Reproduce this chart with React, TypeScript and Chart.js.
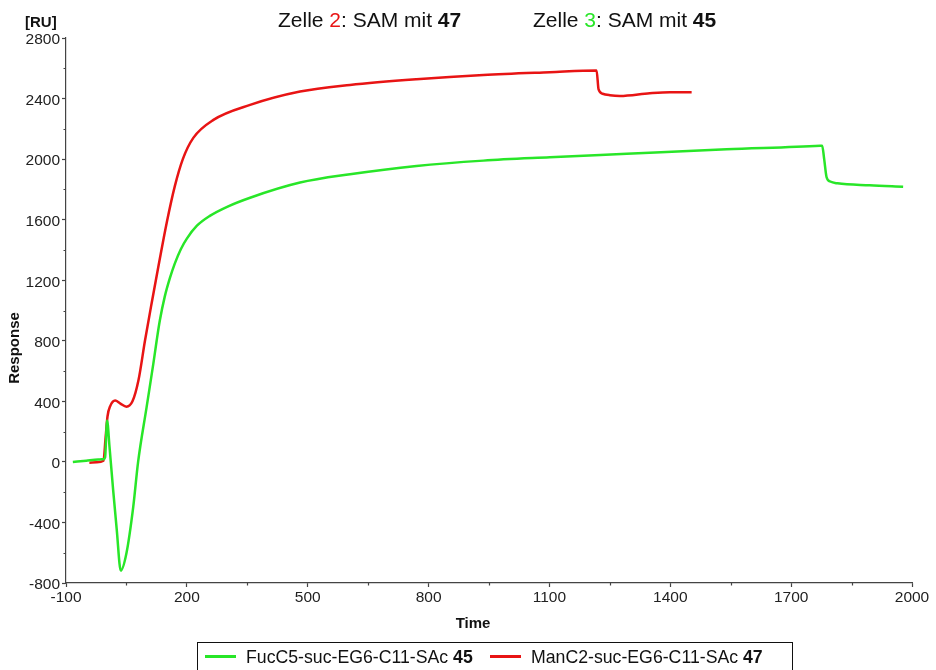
import React, { useEffect, useRef } from "react";
import { Chart, registerables } from "chart.js";

Chart.register(...registerables);

// ---- data ----
const greenTime = [-83, -50, -20, -7, -3, 2, 8, 17, 26, 36, 50, 67, 79, 100, 117, 125, 133, 145, 158, 170, 185, 200, 225, 257, 300, 357, 481, 605, 770, 936, 1101, 1292, 1540, 1772, 1777, 1782, 1788, 1797, 1815, 1895, 1978];
const greenResponse = [0, 8, 15, 18, 30, 273, 100, -185, -449, -718, -603, -295, 0, 360, 652, 800, 935, 1090, 1215, 1310, 1405, 1475, 1560, 1625, 1685, 1745, 1845, 1900, 1955, 1990, 2012, 2035, 2065, 2088, 2089, 2000, 1880, 1852, 1840, 1827, 1818];

const redTime = [-42, -24, -7, -2, 3, 10, 22, 35, 50, 65, 80, 96, 112, 130, 150, 170, 190, 216, 266, 357, 481, 605, 770, 936, 1101, 1217, 1222, 1232, 1250, 1275, 1349, 1399, 1453];
const redResponse = [-5, -3, 7, 150, 300, 370, 405, 385, 365, 400, 541, 800, 1040, 1300, 1580, 1820, 2000, 2140, 2259, 2358, 2446, 2490, 2528, 2556, 2574, 2585, 2460, 2432, 2422, 2417, 2435, 2442, 2442];

const xMajorTicks = [-100, 200, 500, 800, 1100, 1400, 1700, 2000];
const xMinorTicks = [50, 350, 650, 950, 1250, 1550, 1850];
const yMajorTicks = [-800, -400, 0, 400, 800, 1200, 1600, 2000, 2400, 2800];
const yMinorTicks = [-600, -200, 200, 600, 1000, 1400, 1800, 2200, 2600];

const seriesNames = ["FucC5-suc-EG6-C11-SAc", "ManC2-suc-EG6-C11-SAc"];
const seriesNumbers = ["45", "47"];
const titleCells = ["2", "3"];
const titleNumbers = ["47", "45"];

const GREEN = "rgb(40,230,40)";
const RED = "rgb(232,20,20)";
const FONT = "'Liberation Sans', Arial, Helvetica, sans-serif";
const AXIS = "#444";

function drawParts(ctx: CanvasRenderingContext2D, x: number, y: number, parts: { t: string; c: string; b?: boolean }[], size: number) {
  let cx = x;
  for (const p of parts) {
    ctx.font = `${p.b ? "bold " : ""}${size}px ${FONT}`;
    ctx.fillStyle = p.c;
    ctx.fillText(p.t, cx, y);
    cx += ctx.measureText(p.t).width;
  }
}

const decorPlugin = {
  id: "decor",
  afterDraw(chart: any) {
    const ctx: CanvasRenderingContext2D = chart.ctx;
    const xs = chart.scales.x;
    const ys = chart.scales.y;
    const area = chart.chartArea;
    ctx.save();
    // minor ticks
    ctx.strokeStyle = AXIS;
    ctx.lineWidth = 1.2;
    ctx.beginPath();
    for (const v of xMinorTicks) {
      const px = Math.round(xs.getPixelForValue(v)) + 0.5;
      ctx.moveTo(px, area.bottom);
      ctx.lineTo(px, area.bottom + 2.5);
    }
    for (const v of yMinorTicks) {
      const py = Math.round(ys.getPixelForValue(v)) + 0.5;
      ctx.moveTo(area.left, py);
      ctx.lineTo(area.left - 2.5, py);
    }
    ctx.stroke();

    ctx.textBaseline = "alphabetic";
    ctx.textAlign = "left";
    // unit label
    drawParts(ctx, 25, 27, [{ t: "[RU]", c: "#111", b: true }], 15);
    // titles
    const tcols = [RED, GREEN];
    const starts = [278, 533];
    for (let i = 0; i < 2; i++) {
      drawParts(ctx, starts[i], 27, [
        { t: "Zelle ", c: "#111" },
        { t: titleCells[i], c: tcols[i] },
        { t: ": SAM mit ", c: "#111" },
        { t: titleNumbers[i], c: "#111", b: true },
      ], 21);
    }
    // axis titles
    ctx.font = `bold 15px ${FONT}`;
    ctx.fillStyle = "#111";
    ctx.textAlign = "center";
    ctx.fillText("Time", 473, 628);
    ctx.save();
    ctx.translate(19, 348);
    ctx.rotate(-Math.PI / 2);
    ctx.fillText("Response", 0, 0);
    ctx.restore();

    // legend
    ctx.textAlign = "left";
    ctx.strokeStyle = "#111";
    ctx.lineWidth = 1;
    ctx.strokeRect(197.5, 642.5, 595, 40);
    const lcols = [GREEN, RED];
    const lx = [205, 490];
    for (let i = 0; i < 2; i++) {
      ctx.strokeStyle = lcols[i];
      ctx.lineWidth = 3;
      ctx.beginPath();
      ctx.moveTo(lx[i], 656.5);
      ctx.lineTo(lx[i] + 31, 656.5);
      ctx.stroke();
      drawParts(ctx, lx[i] + 41, 663, [
        { t: seriesNames[i] + " ", c: "#111" },
        { t: seriesNumbers[i], c: "#111", b: true },
      ], 17.7);
    }
    ctx.restore();
  },
};

function toPoints(xs: number[], ys: number[]) {
  return xs.map((x, i) => ({ x, y: ys[i] }));
}

export default function App() {
  const ref = useRef<HTMLCanvasElement>(null);
  useEffect(() => {
    if (!ref.current) return;
    const tickFont = { family: FONT, size: 15.5 };
    const chart = new Chart(ref.current, {
      type: "line",
      data: {
        datasets: [
          {
            label: seriesNames[0],
            data: toPoints(greenTime, greenResponse),
            borderColor: GREEN,
            borderWidth: 2.5,
            pointRadius: 0,
            cubicInterpolationMode: "monotone",
            fill: false,
          },
          {
            label: seriesNames[1],
            data: toPoints(redTime, redResponse),
            borderColor: RED,
            borderWidth: 2.5,
            pointRadius: 0,
            cubicInterpolationMode: "monotone",
            fill: false,
          },
        ],
      },
      options: {
        animation: false,
        responsive: false,
        maintainAspectRatio: false,
        layout: { padding: { left: 0, right: 24, top: 38, bottom: 0 } },
        plugins: { legend: { display: false }, tooltip: { enabled: false }, title: { display: false } },
        scales: {
          x: {
            type: "linear",
            min: -100,
            max: 2000,
            afterBuildTicks: (s: any) => {
              s.ticks = xMajorTicks.map((v) => ({ value: v }));
            },
            afterFit: (s: any) => {
              s.height = 87;
            },
            ticks: {
              autoSkip: false,
              maxRotation: 0,
              font: tickFont,
              color: "#222",
              padding: 1,
              callback: (v: any) => String(v),
            },
            grid: { drawOnChartArea: false, drawTicks: true, tickLength: 4, tickColor: AXIS, tickWidth: 1.2 },
            border: { display: true, color: AXIS, width: 1.2 },
          },
          y: {
            type: "linear",
            min: -800,
            max: 2800,
            afterBuildTicks: (s: any) => {
              s.ticks = yMajorTicks.map((v) => ({ value: v }));
            },
            afterFit: (s: any) => {
              s.width = 66;
            },
            ticks: {
              autoSkip: false,
              font: tickFont,
              color: "#222",
              padding: 2,
              labelOffset: 2,
              callback: (v: any) => String(v),
            },
            grid: { drawOnChartArea: false, drawTicks: true, tickLength: 4, tickColor: AXIS, tickWidth: 1.2 },
            border: { display: true, color: AXIS, width: 1.2 },
          },
        },
      } as any,
      plugins: [decorPlugin],
    });
    return () => chart.destroy();
  }, []);
  return (
    <div style={{ position: "absolute", left: 0, top: 0, width: 936, height: 670, background: "#fff" }}>
      <canvas ref={ref} width={936} height={670} style={{ display: "block" }} />
    </div>
  );
}
